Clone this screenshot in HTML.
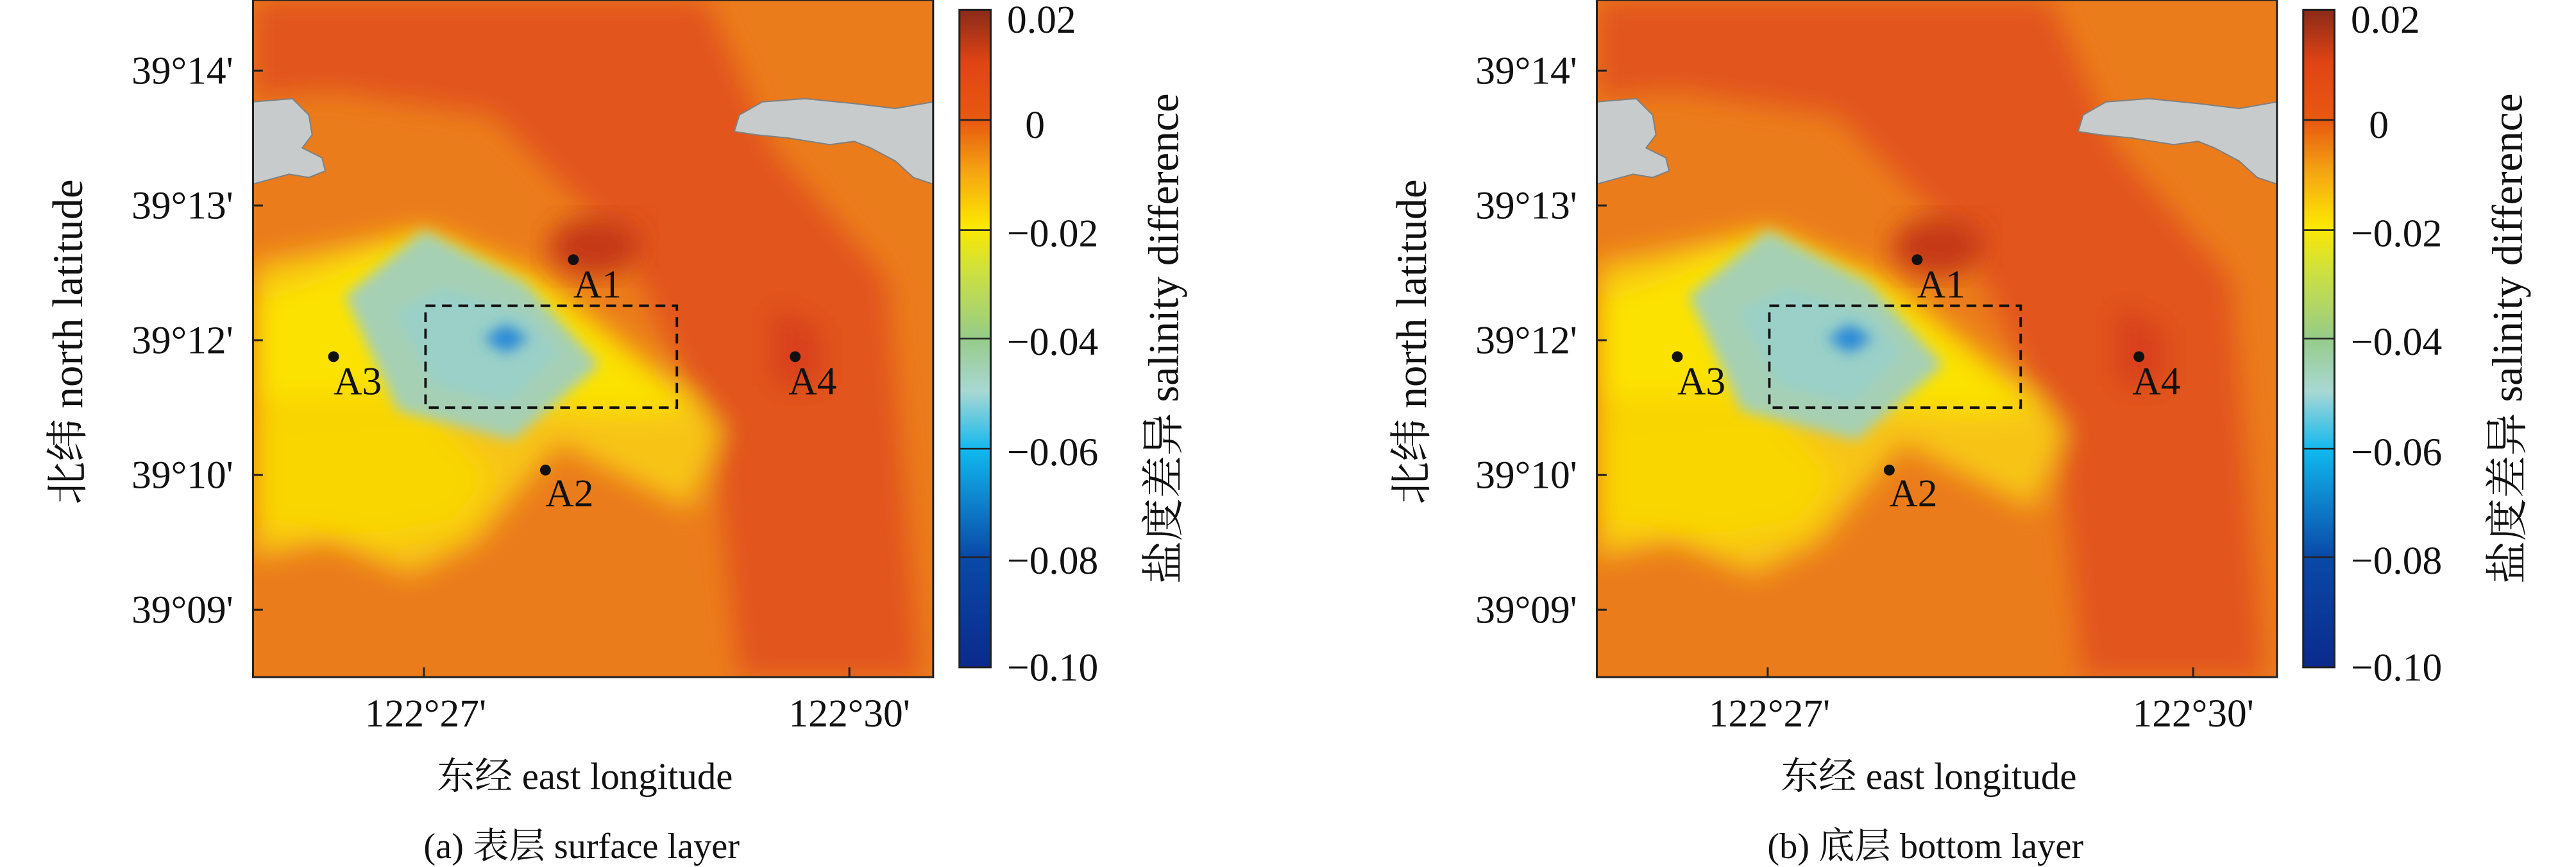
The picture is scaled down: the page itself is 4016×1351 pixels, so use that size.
<!DOCTYPE html>
<html><head><meta charset="utf-8"><style>html,body{margin:0;padding:0;background:#fff}svg{display:block}svg text{font-family:"Liberation Serif","Noto Serif CJK SC",serif}</style></head>
<body>
<svg id="root" width="4016" height="1351" viewBox="0 0 1568 527.5" xmlns="http://www.w3.org/2000/svg" font-family="Liberation Serif, Noto Serif CJK SC, serif">
<defs>
<linearGradient id="cb" x1="0" y1="1" x2="0" y2="0">
<stop offset="0" stop-color="#0a2a8c"/><stop offset="0.17" stop-color="#0a4aa8"/><stop offset="0.33" stop-color="#10b8ee"/><stop offset="0.42" stop-color="#a8d8d4"/><stop offset="0.5" stop-color="#96cc8a"/><stop offset="0.6" stop-color="#cce040"/><stop offset="0.67" stop-color="#fde800"/><stop offset="0.75" stop-color="#f5a812"/><stop offset="0.83" stop-color="#e85a10"/><stop offset="0.92" stop-color="#e04414"/><stop offset="1" stop-color="#8a2a18"/>
</linearGradient>
<filter id="bl" x="-20%" y="-20%" width="140%" height="140%"><feGaussianBlur stdDeviation="8"/></filter>
<filter id="bl2" x="-50%" y="-50%" width="200%" height="200%"><feGaussianBlur stdDeviation="4"/></filter>
<clipPath id="cp"><rect x="154" y="0" width="414" height="412"/></clipPath>
</defs>
<g id="panel">
<g clip-path="url(#cp)">
<rect x="154" y="0" width="414" height="412" fill="#eb7c1c"/>
<g filter="url(#bl)">
<polygon points="230,0 430,0 470,90 540,170 560,412 450,412 435,270 380,150 300,70 200,55 154,60 154,0" fill="#e2541a"/>
<polygon points="154,160 258,140 330,170 420,240 440,262 420,310 340,270 290,330 250,350 200,330 154,340" fill="#f7c412"/>
<polygon points="154,180 200,165 258,140 330,170 400,230 430,248 380,252 260,242 154,245" fill="#fbe200"/>
<polygon points="154,250 260,245 300,290 280,320 230,330 154,320" fill="#f9d606"/>
<polygon points="470,185 500,200 500,235 470,235" fill="#d8401a"/>
</g>
<polygon points="210,180 258,140 320,172 365,222 312,268 242,250" fill="#a6d0b4" filter="url(#bl2)"/>
<polygon points="240,190 270,175 320,190 340,215 310,245 265,235" fill="#9ad0c8" filter="url(#bl2)"/>
<polygon points="308,197 322,206 308,215 294,206" fill="#2a8ad8" filter="url(#bl2)"/>
<ellipse cx="362" cy="150" rx="28" ry="18" fill="#c43818" filter="url(#bl)"/>
<polygon points="154,62 178,60 188,70 190,82 184,90 196,96 198,104 188,108 176,106 154,112" fill="#c8cbcb" stroke="#808080" stroke-width="0.8"/>
<polygon points="447,80 450,70 464,62 490,60 520,63 545,66 568,62 568,112 556,108 545,98 530,90 520,86 505,88 480,84 460,82" fill="#c8cbcb" stroke="#808080" stroke-width="0.8"/>
</g>
<rect x="154" y="0" width="414" height="412" fill="none" stroke="#222" stroke-width="1.2"/>
<rect x="259" y="186" width="153" height="62" fill="none" stroke="#111" stroke-width="1.5" stroke-dasharray="6,4"/>
<g fill="#111"><circle cx="349" cy="158" r="3.3"/><circle cx="332" cy="286" r="3.3"/><circle cx="203" cy="217" r="3.3"/><circle cx="484" cy="217" r="3.3"/></g>
<g font-size="24" fill="#111"><text x="349" y="181">A1</text><text x="332" y="308">A2</text><text x="203" y="240">A3</text><text x="480" y="240">A4</text></g>
<g stroke="#222" stroke-width="1.2"><line x1="154" y1="43" x2="160" y2="43"/><line x1="154" y1="125" x2="160" y2="125"/><line x1="154" y1="207" x2="160" y2="207"/><line x1="154" y1="289" x2="160" y2="289"/><line x1="154" y1="371" x2="160" y2="371"/><line x1="258" y1="412" x2="258" y2="406"/><line x1="517" y1="412" x2="517" y2="406"/></g>
<g font-size="24" fill="#111" text-anchor="end"><text x="142" y="51">39°14'</text><text x="142" y="133">39°13'</text><text x="142" y="215">39°12'</text><text x="142" y="297">39°10'</text><text x="142" y="379">39°09'</text></g>
<g font-size="24" fill="#111" text-anchor="middle"><text x="259" y="442">122°27'</text><text x="517" y="442">122°30'</text>
<text x="356" y="480" font-size="23">东经 east longitude</text></g>
<text transform="translate(50,208) rotate(-90)" font-size="26" text-anchor="middle" fill="#111">北纬 north latitude</text>
<rect x="584" y="6" width="19" height="400" fill="url(#cb)" stroke="#222" stroke-width="1.2"/>
<g stroke="#222" stroke-width="1"><line x1="584" y1="73" x2="603" y2="73"/><line x1="584" y1="140" x2="603" y2="140"/><line x1="584" y1="206" x2="603" y2="206"/><line x1="584" y1="273" x2="603" y2="273"/><line x1="584" y1="339" x2="603" y2="339"/></g>
<g font-size="24" fill="#111"><text x="613" y="20">0.02</text><text x="624" y="84">0</text><text x="613" y="150">−0.02</text><text x="613" y="216">−0.04</text><text x="613" y="283">−0.06</text><text x="613" y="349">−0.08</text><text x="613" y="414">−0.10</text></g>
<text transform="translate(717,206) rotate(-90)" font-size="26" text-anchor="middle" fill="#111">盐度差异 salinity difference</text>
</g>
<text x="354" y="522" font-size="22" text-anchor="middle" fill="#111">(a) 表层 surface layer</text>
<text x="1172" y="522" font-size="22" text-anchor="middle" fill="#111">(b) 底层 bottom layer</text>
<script>
var p=document.getElementById('panel');var c=p.cloneNode(true);c.removeAttribute('id');c.setAttribute('transform','translate(818,0)');p.parentNode.insertBefore(c,p.nextSibling);
</script>
</svg>
</body></html>
